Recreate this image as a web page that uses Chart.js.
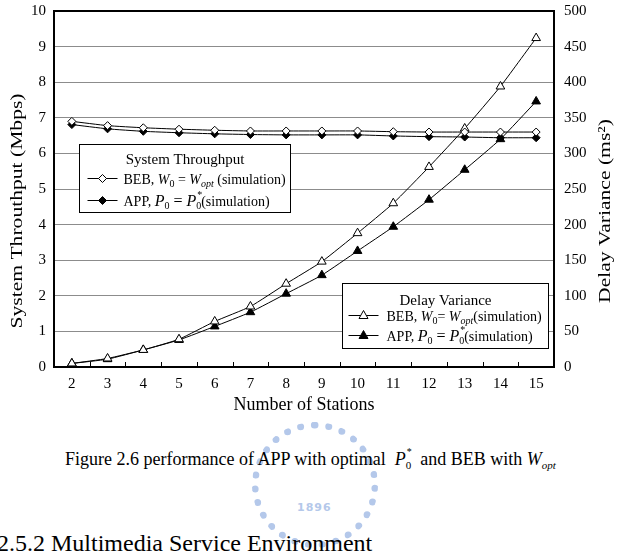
<!DOCTYPE html>
<html>
<head>
<meta charset="utf-8">
<script src="https://cdn.jsdelivr.net/npm/chart.js@4"></script>
<style>
  html, body { margin: 0; padding: 0; background: #fff; }
  body { width: 621px; height: 551px; overflow: hidden; position: relative; font-family: "Liberation Serif", serif; color: #000; }
  #wrap { position: absolute; left: 0; top: 0; width: 621px; height: 420px; }
  #logo { position: absolute; left: 252px; top: 422px; width: 112px; height: 112px; border: 7px dotted #b4c8ea; border-radius: 50%; }
  #logo span { position: absolute; left: 38px; top: 72px; font: bold 11px "DejaVu Sans"; color: #b4c8ea; letter-spacing: 1px; }
  #caption { position: absolute; left: 0; width: 621px; top: 449px; text-align: center; font-size: 18px; }
  #heading { position: absolute; left: -3px; top: 530px; font-size: 24px; white-space: nowrap; }
  .m { font-style: italic; }
  .ss { display: inline-block; position: relative; font-size: 11px; top: 4px; }
  .st { position: absolute; left: 1px; top: -13px; font-size: 10px; }
</style>
</head>
<body>
<div id="logo"><span>1896</span></div>
<div id="wrap"><canvas id="chart"></canvas></div>
<div id="caption">Figure 2.6 performance of APP with optimal&nbsp; <span class="m">P</span><span class="ss">0<span class="st">*</span></span>&nbsp; and BEB with <span class="m">W</span><span class="ss m">opt</span></div>
<div id="heading">2.5.2 Multimedia Service Environment</div>

<script>
document.addEventListener("DOMContentLoaded", () => {

/* DATA */

const stations = ["2", "3", "4", "5", "6", "7", "8", "9", "10", "11", "12", "13", "14", "15"];

const bebThroughput = [6.90, 6.78, 6.72, 6.68, 6.65, 6.63, 6.63, 6.63, 6.63, 6.61, 6.60, 6.60, 6.60, 6.60];
const appThroughput = [6.81, 6.69, 6.62, 6.58, 6.55, 6.53, 6.52, 6.52, 6.52, 6.49, 6.47, 6.46, 6.44, 6.44];

const bebDelay = [5, 12, 24, 39, 64, 85, 117, 148, 188, 230, 281, 335, 394, 462];
const appDelay = [5, 11, 24, 38, 57, 77, 103, 129, 163, 197, 235, 277, 320, 373];

const throughputRange = [0, 10, 1];
const delayRange = [0, 500, 50];

const FONT = "Liberation Serif";

/* LEGEND TEXT (pieces: i = italic, sub = subscript, sup = star over the subscript) */

const legendBoxes = [
    {
        title: "System Throughput",
        box: [0.05, 0.374, 211, 68],
        titleY: 19, rowY: 34, rowGap: 22, lineX: 8,
        items: [
            { ds: 0, parts: [{ t: "BEB, " }, { t: "W", i: 1 }, { t: "0", sub: 1 }, { t: " = " }, { t: "W", i: 1 }, { t: "opt", i: 1, sub: 1 }, { t: " (simulation)" }] },
            { ds: 1, parts: [{ t: "APP, " }, { t: "P", i: 1, big: 1 }, { t: "0", sub: 1 }, { t: " = ", big: 1 }, { t: "P", i: 1, big: 1 }, { t: "0", sub: 1, sup: "*" }, { t: "(simulation)" }] }
        ]
    },
    {
        title: "Delay Variance",
        box: [0.576, 0.764, 206, 65],
        titleY: 21, rowY: 32, rowGap: 20, lineX: 6,
        items: [
            { ds: 2, parts: [{ t: "BEB, " }, { t: "W", i: 1 }, { t: "0", sub: 1 }, { t: "= " }, { t: "W", i: 1 }, { t: "opt", i: 1, sub: 1 }, { t: "(simulation)" }] },
            { ds: 3, parts: [{ t: "APP, " }, { t: "P", i: 1, big: 1 }, { t: "0", sub: 1 }, { t: " = ", big: 1 }, { t: "P", i: 1, big: 1 }, { t: "0", sub: 1, sup: "*" }, { t: "(simulation)" }] }
        ]
    }
];

/* PLUGINS */

// vertical title, drawn bottom-up and a bit stretched like the scanned figure
function sideTitle(ctx, text, x, y) {
    ctx.save();
    ctx.fillStyle = "#000";
    ctx.font = "17px '" + FONT + "'";
    ctx.translate(x, y);
    ctx.rotate(-Math.PI / 2);
    ctx.scale(1.27, 1);
    ctx.textAlign = "center";
    ctx.textBaseline = "middle";
    ctx.fillText(text, 0, 0);
    ctx.restore();
}

const framePlugin = {
    id: "frame",
    afterDraw(chart) {
        const ctx = chart.ctx;
        const a = chart.chartArea;
        const n = stations.length;
        ctx.save();
        ctx.strokeStyle = "#000";

        // inward ticks between stations
        ctx.lineWidth = 1;
        for (let k = 1; k < n; k++) {
            const x = Math.round(a.left + k * (a.right - a.left) / n) + 0.5;
            ctx.beginPath();
            ctx.moveTo(x, a.bottom);
            ctx.lineTo(x, a.bottom - 5);
            ctx.stroke();
        }

        ctx.lineWidth = 2;
        ctx.strokeRect(a.left, a.top, a.right - a.left, a.bottom - a.top);
        ctx.restore();

        const mid = (a.top + a.bottom) / 2 + 22;
        sideTitle(ctx, "System Throuthput (Mbps)", 18, mid);
        sideTitle(ctx, "Delay Variance (ms\u00b2)", chart.width - 15, mid);
    }
};

function drawMarker(ctx, ds, x, y) {
    ctx.save();
    ctx.lineWidth = 1;
    ctx.strokeStyle = "#000";
    ctx.fillStyle = ds.pointBackgroundColor;
    const r = ds.pointRadius;
    ctx.beginPath();
    if (ds.pointStyle === "rectRot") {
        ctx.moveTo(x, y - r); ctx.lineTo(x + r, y); ctx.lineTo(x, y + r); ctx.lineTo(x - r, y);
    } else {
        ctx.moveTo(x, y - r); ctx.lineTo(x + r * 0.9, y + r * 0.6); ctx.lineTo(x - r * 0.9, y + r * 0.6);
    }
    ctx.closePath();
    ctx.fill();
    ctx.stroke();
    ctx.restore();
}

const boxLegendPlugin = {
    id: "boxLegend",
    afterDraw(chart) {
        const ctx = chart.ctx;
        const a = chart.chartArea;
        ctx.save();
        legendBoxes.forEach(lb => {
            const bx = Math.round(a.left + lb.box[0] * (a.right - a.left)) + 0.5;
            const by = Math.round(a.top + lb.box[1] * (a.bottom - a.top)) + 0.5;
            const bw = lb.box[2], bh = lb.box[3];
            ctx.fillStyle = "#fff";
            ctx.fillRect(bx, by, bw, bh);
            ctx.strokeStyle = "#000";
            ctx.lineWidth = 1;
            ctx.strokeRect(bx, by, bw, bh);

            ctx.fillStyle = "#000";
            ctx.textBaseline = "alphabetic";
            ctx.textAlign = "center";
            ctx.font = "15px '" + FONT + "'";
            ctx.fillText(lb.title, bx + bw / 2, by + lb.titleY);

            lb.items.forEach((it, j) => {
                const cy = by + lb.rowY + j * lb.rowGap;
                const ds = chart.data.datasets[it.ds];
                ctx.strokeStyle = "#000";
                ctx.lineWidth = 1;
                ctx.beginPath();
                ctx.moveTo(bx + lb.lineX, cy);
                ctx.lineTo(bx + lb.lineX + 30, cy);
                ctx.stroke();
                drawMarker(ctx, ds, bx + lb.lineX + 15, cy);

                let x = bx + 44;
                const base = cy + 5;
                ctx.textAlign = "left";
                it.parts.forEach(p => {
                    const size = p.sub ? 10 : (p.big ? 16 : 14);
                    ctx.font = (p.i ? "italic " : "") + size + "px '" + FONT + "'";
                    const y = p.sub ? base + 3 : base;
                    ctx.fillText(p.t, x, y);
                    let w = ctx.measureText(p.t).width;
                    if (p.sup) {
                        ctx.font = "10px '" + FONT + "'";
                        ctx.fillText(p.sup, x + 1, base - 8);
                        w = Math.max(w, ctx.measureText(p.sup).width);
                    }
                    x += w;
                });
            });
        });
        ctx.restore();
    }
};

/* CHART */

const tickFont = { family: FONT, size: 15 };

function lineSet(label, data, axis, style, filled) {
    return {
        label: label,
        data: data,
        yAxisID: axis,
        borderColor: "#000",
        borderWidth: 1,
        pointStyle: style,
        pointRadius: style === "triangle" ? 5 : 4,
        pointBackgroundColor: filled ? "#000" : "#fff",
        pointBorderColor: "#000",
        pointBorderWidth: 1,
        tension: 0.15,
        fill: false
    };
}

// keep the tick padding from pushing the plot down
function fixSide(width) {
    return s => { s.width = width; s.paddingTop = 0; s.paddingBottom = 0; };
}

new Chart(document.getElementById("chart"), {
    type: "line",
    data: {
        labels: stations,
        datasets: [
            lineSet("BEB throughput", bebThroughput, "y", "rectRot", false),
            lineSet("APP throughput", appThroughput, "y", "rectRot", true),
            lineSet("BEB delay variance", bebDelay, "y2", "triangle", false),
            lineSet("APP delay variance", appDelay, "y2", "triangle", true)
        ]
    },
    options: {
        responsive: true,
        maintainAspectRatio: false,
        animation: false,
        layout: { padding: { top: 11, left: 0, right: 0, bottom: 0 } },
        plugins: { legend: { display: false }, tooltip: { enabled: false } },
        scales: {
            x: {
                offset: true,
                grid: { display: false },
                border: { display: false },
                ticks: { color: "#000", font: tickFont, padding: 0, maxRotation: 0 },
                title: { display: true, text: "Number of Stations", color: "#000", font: { family: FONT, size: 18 }, padding: { top: 1 } },
                afterFit: s => { s.height = 53; }
            },
            y: {
                position: "left",
                min: throughputRange[0],
                max: throughputRange[1],
                ticks: { stepSize: throughputRange[2], color: "#000", font: tickFont, padding: 8 },
                grid: { color: "#8c8c8c", lineWidth: 1, drawTicks: false },
                border: { display: false },
                afterFit: fixSide(54)
            },
            y2: {
                position: "right",
                min: delayRange[0],
                max: delayRange[1],
                ticks: { stepSize: delayRange[2], color: "#000", font: tickFont, padding: 10 },
                grid: { drawOnChartArea: false, drawTicks: false },
                border: { display: false },
                afterFit: fixSide(67)
            }
        }
    },
    plugins: [framePlugin, boxLegendPlugin]
});

});
</script>
</body>
</html>
